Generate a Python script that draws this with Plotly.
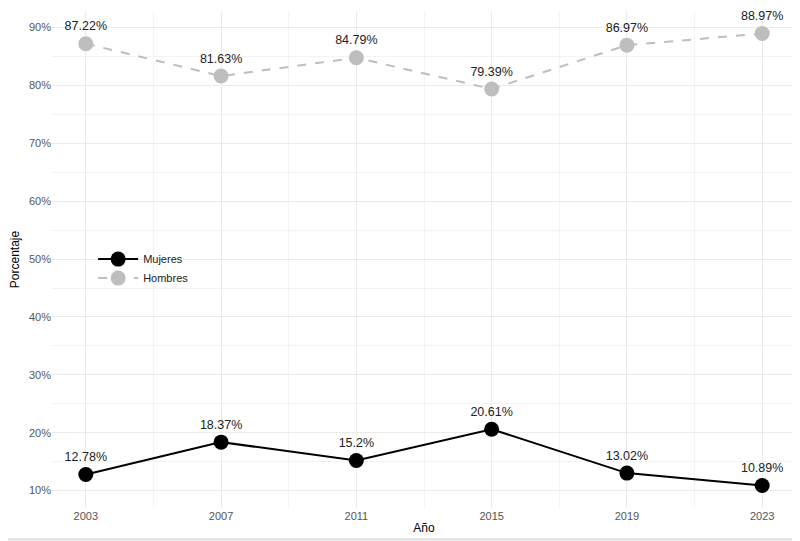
import plotly.graph_objects as go

years = [2003, 2007, 2011, 2015, 2019, 2023]
mujeres = [12.78, 18.37, 15.2, 20.61, 13.02, 10.89]
hombres = [87.22, 81.63, 84.79, 79.39, 86.97, 88.97]
y_ticks = [10, 20, 30, 40, 50, 60, 70, 80, 90]

def lbl(vals):
    return [f"{v}%" for v in vals]

fig = go.Figure()
fig.add_trace(go.Scatter(
    x=years, y=mujeres, name="Mujeres", mode="lines+markers+text",
    line=dict(color="black", width=2),
    marker=dict(color="black", size=15),
    text=lbl(mujeres), textposition="top center",
    textfont=dict(size=12.5, color="#222222"),
))
fig.add_trace(go.Scatter(
    x=years, y=hombres, name="Hombres", mode="lines+markers+text",
    line=dict(color="#bebebe", width=2, dash="dash"),
    marker=dict(color="#bebebe", size=15),
    text=lbl(hombres), textposition="top center",
    textfont=dict(size=12.5, color="#222222"),
))

fig.update_layout(
    width=792, height=533,
    margin=dict(l=40, r=4, t=3, b=33),
    paper_bgcolor="white", plot_bgcolor="white",
    font=dict(family="Liberation Sans, Arial, sans-serif", size=11, color="#555555"),
    showlegend=True,
    legend=dict(x=0.0553, y=0.53, xanchor="left", yanchor="top",
                bgcolor="rgba(0,0,0,0)", font=dict(size=11, color="#222222"),
                itemwidth=40, tracegroupgap=2),
    shapes=[dict(type="rect", xref="paper", yref="paper", x0=-0.1, x1=1.1,
                 y0=-0.0664, y1=-0.0604, fillcolor="#e6e6e6", line=dict(width=0),
                 layer="below")],
)
fig.update_xaxes(
    range=[2002, 2024], tickvals=years, ticktext=[str(y) for y in years],
    showgrid=True, gridcolor="#ebebeb", gridwidth=1, zeroline=False,
    showline=False, ticks="", tickfont=dict(size=11, color="#555555"),
    minor=dict(tickvals=[2005, 2009, 2013, 2017, 2021], showgrid=True,
               gridcolor="#f3f3f3", gridwidth=1),
    title=dict(text="Año", font=dict(size=12, color="#000000"), standoff=2),
)
fig.update_yaxes(
    range=[6.99, 92.87], tickvals=y_ticks, ticktext=[f"{v}%" for v in y_ticks],
    showgrid=True, gridcolor="#ebebeb", gridwidth=1, zeroline=False,
    showline=False, ticks="", tickfont=dict(size=11, color="#555555"),
    minor=dict(tickvals=[15, 25, 35, 45, 55, 65, 75, 85], showgrid=True,
               gridcolor="#f3f3f3", gridwidth=1),
    title=dict(text="Porcentaje", font=dict(size=12, color="#000000"), standoff=10),
)

fig.write_html("out.html")
